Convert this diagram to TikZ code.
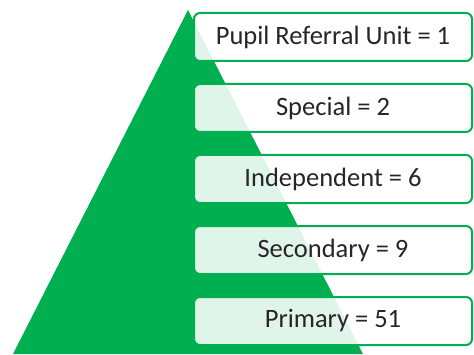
\documentclass[tikz,border=0pt]{standalone}
\usepackage{fontspec}
\setmainfont{Carlito}
\usetikzlibrary{positioning}
\definecolor{pyrgreen}{RGB}{0,176,80}

\begin{document}
\begin{tikzpicture}[x=1pt, y=1pt,
    level/.style={draw=pyrgreen, line width=2pt, rounded corners=6pt,
        fill=white, fill opacity=0.88, text opacity=1, text=black!85,
        minimum width=278pt, minimum height=48pt,
        font=\fontsize{26.5}{31}\selectfont}]
    \useasboundingbox (0,0) rectangle (474,354);

    % Green pyramid behind the levels
    \fill[pyrgreen] (13,0) -- (188,344) -- (363,0) -- cycle;

    % School type levels, top to bottom
    \node[level] (pru) at (333,317) {Pupil Referral Unit = 1};
    \node[level, below=21pt of pru] (special) {Special = 2};
    \node[level, below=21pt of special] (independent) {Independent = 6};
    \node[level, below=21pt of independent] (secondary) {Secondary = 9};
    \node[level, below=21pt of secondary] (primary) {Primary = 51};
\end{tikzpicture}
\end{document}
